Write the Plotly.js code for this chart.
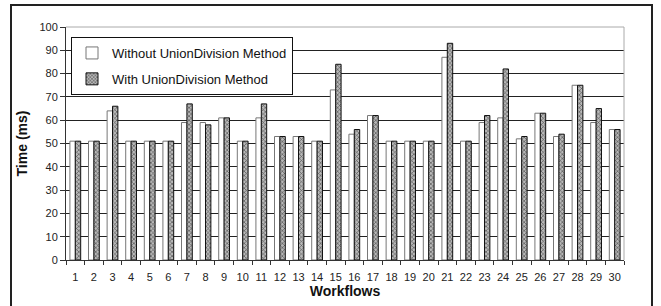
<!DOCTYPE html>
<html>
<head>
<meta charset="utf-8">
<script src="https://cdn.plot.ly/plotly-3.0.1.min.js"></script>
<style>
html,body{margin:0;padding:0;background:#fff;}
#chart{width:661px;height:306px;}
</style>
</head>
<body>
<div id="chart"></div>
<script>
const workflows = ["1","2","3","4","5","6","7","8","9","10","11","12","13","14","15","16","17","18","19","20","21","22","23","24","25","26","27","28","29","30"];
const withoutMethod = [51,51,64,51,51,51,59,59,61,51,61,53,53,51,73,54,62,51,51,51,87,51,59,61,52,63,53,75,59,56];
const withMethod    = [51,51,66,51,51,51,67,58,61,51,67,53,53,51,84,56,62,51,51,51,93,51,62,82,53,63,54,75,65,56];
const seriesNames = ["Without UnionDivision Method","With UnionDivision Method"];

const L = 66, R = 624, T = 27, B = 260, W = 661, H = 306;
const px = x => (x - L) / (R - L);
const py = y => (B - y) / (B - T);

const traces = [
  {
    type: 'bar', name: seriesNames[0], x: workflows, y: withoutMethod,
    legendgroup: 'a',
    marker: {color: '#ffffff', line: {color: '#777777', width: 1}}
  },
  {
    type: 'bar', name: seriesNames[1], x: workflows, y: withMethod,
    legendgroup: 'b',
    marker: {color: '#9a9a9a', line: {color: '#111111', width: 1},
             pattern: {shape: 'x', fgcolor: '#555555', bgcolor: '#b8b8b8', size: 3, solidity: 0.4}}
  }
];

const layout = {
  width: W, height: H,
  margin: {l: L, r: W - R, t: T, b: H - B, pad: 0},
  paper_bgcolor: '#ffffff', plot_bgcolor: '#ffffff',
  font: {family: '"Liberation Sans", Arial, sans-serif', size: 11, color: '#222'},
  barmode: 'group', bargap: 0.42, bargroupgap: 0,
  showlegend: true,
  legend: {
    x: px(71), y: py(37), xanchor: 'left', yanchor: 'top',
    bgcolor: '#ffffff', bordercolor: '#111111', borderwidth: 1,
    font: {size: 13, color: '#111'},
    traceorder: 'grouped', tracegroupgap: 6, itemwidth: 30
  },
  xaxis: {
    type: 'category', tickson: 'boundaries', ticks: 'outside', ticklen: 4,
    tickangle: 0, ticklabelstandoff: 7,
    tickcolor: '#333', showline: true, linecolor: '#333', linewidth: 1,
    showgrid: false, tickfont: {size: 11, color: '#222'},
    title: {text: 'Workflows', font: {size: 14, color: '#111', family: '"Liberation Sans", Arial, sans-serif', weight: 'bold'}, standoff: 3}
  },
  yaxis: {
    range: [0, 100], tickvals: [0,10,20,30,40,50,60,70,80,90,100], ticks: 'outside', ticklen: 5,
    tickcolor: '#333', showline: true, linecolor: '#333', linewidth: 1,
    showgrid: true, gridcolor: '#222', gridwidth: 1, zeroline: false,
    tickfont: {size: 11, color: '#222'},
    title: {text: 'Time (ms)', font: {size: 14, color: '#111', family: '"Liberation Sans", Arial, sans-serif', weight: 'bold'}, standoff: 8}
  },
  shapes: [
    {type: 'line', xref: 'paper', yref: 'paper', x0: 0, x1: 1, y0: 1, y1: 1, line: {color: '#aaaaaa', width: 1}, layer: 'above'},
    {type: 'line', xref: 'paper', yref: 'paper', x0: 1, x1: 1, y0: 0, y1: 1, line: {color: '#aaaaaa', width: 1}, layer: 'above'},
    {type: 'rect', xref: 'paper', yref: 'paper', x0: px(11), x1: px(652), y0: py(5), y1: py(312), line: {color: '#222222', width: 2}, fillcolor: 'rgba(0,0,0,0)', layer: 'above'}
  ]
};

Plotly.newPlot('chart', traces, layout, {displayModeBar: false, staticPlot: true});
</script>
</body>
</html>
